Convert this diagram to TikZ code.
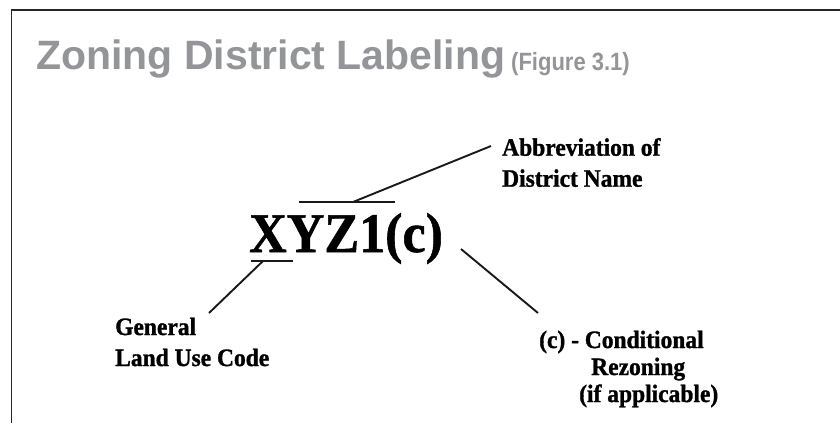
\documentclass[tikz,border=0pt]{standalone}
\usepackage{fontspec}
\setmainfont{Liberation Serif}
\newfontfamily\titlefont{Liberation Sans}
\newfontfamily\figfont{Liberation Sans}[BoldFeatures={FakeStretch=0.88}]
\newfontfamily\lblfont{Liberation Serif}[BoldFeatures={FakeBold=1.2, FakeStretch=0.94}]
\newfontfamily\codefont{Liberation Serif}[BoldFeatures={FakeBold=1.0, FakeStretch=0.93}]
\definecolor{titlegray}{RGB}{147,149,152}
\begin{document}
\begin{tikzpicture}[x=1pt,y=-1pt,
  lbl/.style={inner sep=0pt, font=\lblfont\fontsize{25}{31}\selectfont\bfseries, align=left},
  conn/.style={line width=1.9pt, black!90},
  bar/.style={line width=1.9pt, black!90}]
\useasboundingbox (0,0) rectangle (840,423);
\draw[line width=1.5pt, black!85] (840,10) -- (11.7,10) -- (11.7,423);
\node[anchor=base west, inner sep=0pt, text=titlegray, font=\titlefont\fontsize{41}{41}\selectfont\bfseries] (title) at (36,69) {Zoning District Labeling};
\node[anchor=base west, inner sep=0pt, text=titlegray, font=\figfont\fontsize{25}{25}\selectfont\bfseries] (fig) at (511,70) {(Figure 3.1)};
\node[anchor=base west, inner sep=0pt, font=\codefont\fontsize{56}{56}\selectfont\bfseries] (code) at (249,252) {XYZ1(c)};
% over/underline
\coordinate (ovL) at (299,202); \coordinate (ovR) at (395,202);
\coordinate (unL) at (251,261); \coordinate (unR) at (293,261);
\draw[bar] (ovL) -- (ovR);
\draw[bar] (unL) -- (unR);
\coordinate (ovP) at (353,202);
\coordinate (unP) at (263,261);
\coordinate (cP) at (461,249);
% labels (anchored on the baseline of their last line)
\node[lbl, anchor=base west] (abbr) at (502,186.7) {Abbreviation of\\District Name};
\node[lbl, anchor=base west] (gen) at (115,366) {General\\Land Use Code};
\node[lbl, anchor=base west, font=\lblfont\fontsize{25}{27}\selectfont\bfseries] (cond) at (539,402) {(c) - Conditional\\\hspace*{52pt}Rezoning\\\hspace*{40pt}(if applicable)};
\coordinate (abbrEnd) at (491,146);
\coordinate (genEnd) at (209,313);
\coordinate (condEnd) at (538,313);
\draw[conn] (ovP) -- (abbrEnd);
\draw[conn] (unP) -- (genEnd);
\draw[conn] (cP) -- (condEnd);
\end{tikzpicture}
\end{document}
